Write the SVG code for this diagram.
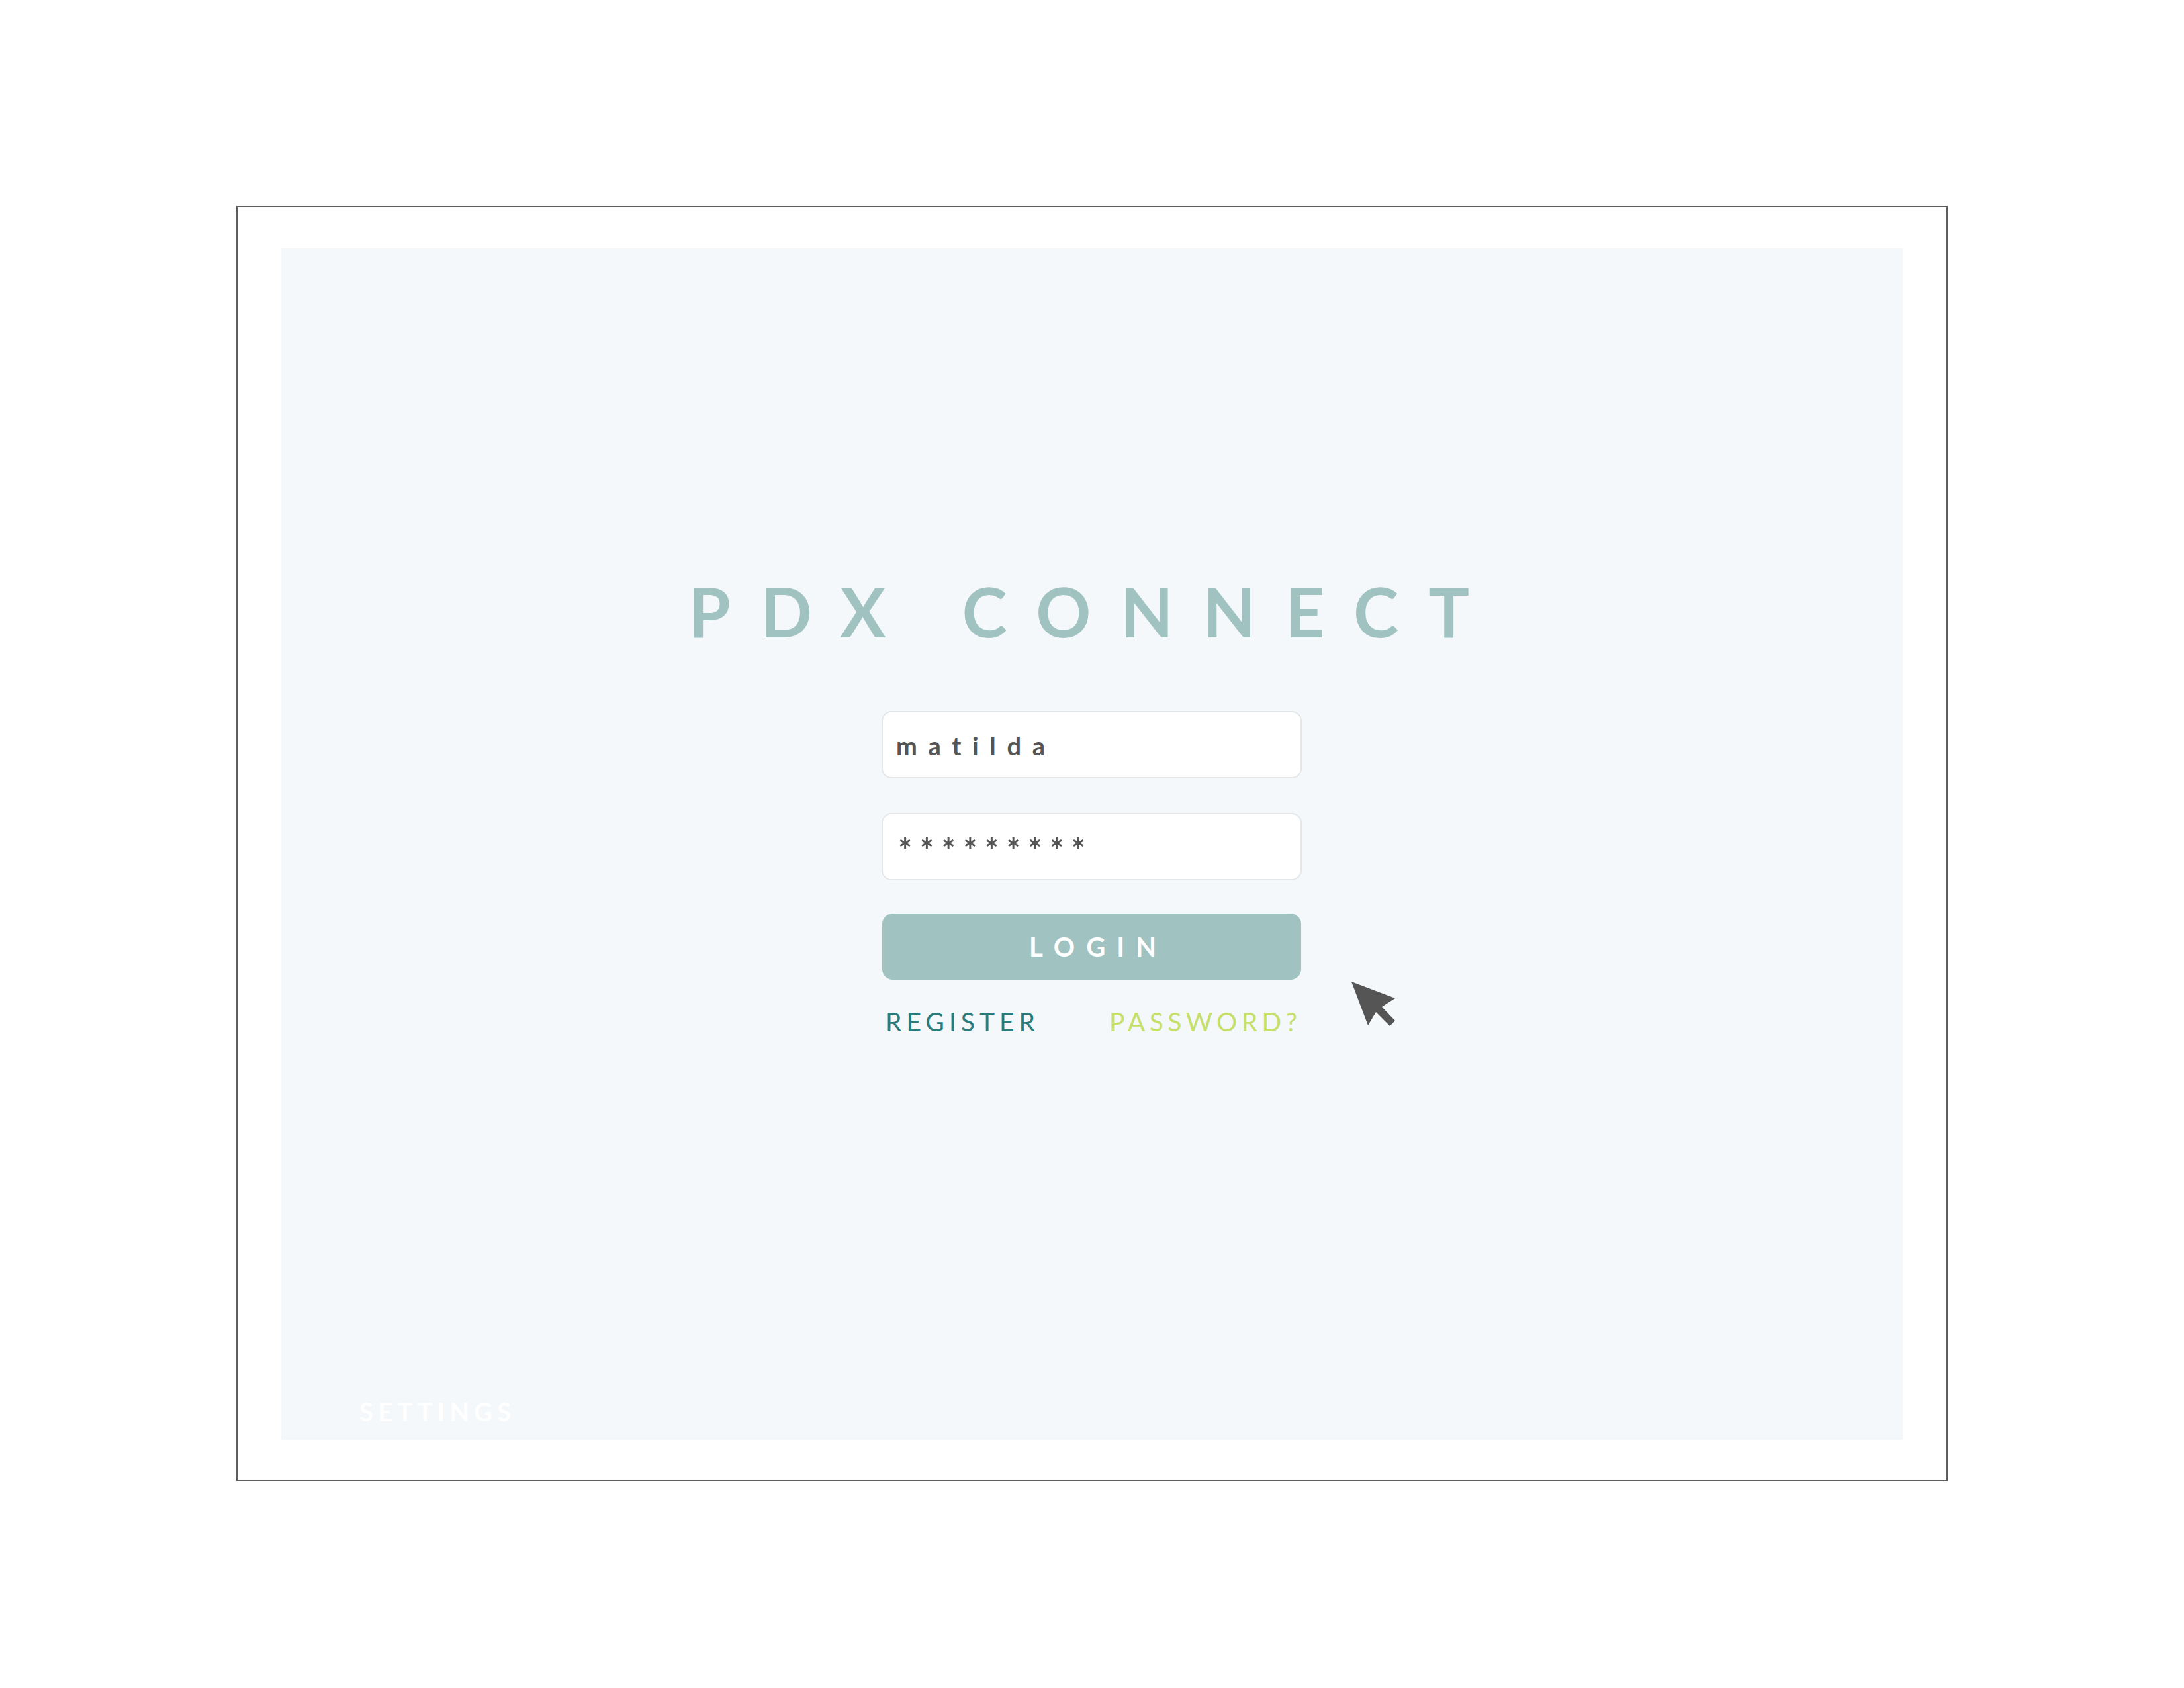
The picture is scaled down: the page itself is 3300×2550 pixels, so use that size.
<svg xmlns="http://www.w3.org/2000/svg" width="3300" height="2550" viewBox="0 0 3300 2550">
<style>
.t{font-family:Lato,"Liberation Sans",sans-serif;font-variant-ligatures:none}
.field{fill:#ffffff;stroke:#e4e6e8;stroke-width:2}
.val{font-size:38px;font-weight:700;fill:#555555}
</style>
<rect x="0" y="0" width="3300" height="2550" fill="#ffffff"/>
<g id="frame">
<rect x="358" y="312" width="2584" height="1925" fill="#ffffff" stroke="#5e5e5e" stroke-width="2"/>
</g>
<g id="panel">
<rect x="425" y="375" width="2450" height="1800" fill="#f4f8fb"/>
</g>
<g id="title">
<text class="t" x="1040" y="963" font-size="103" font-weight="700" fill="#a0c2c1" textLength="1180" lengthAdjust="spacing">PDX CONNECT</text>
</g>
<g id="username">
<rect class="field" x="1333" y="1075" width="633" height="100" rx="14"/>
<text class="t val" x="1354" y="1141" textLength="225" lengthAdjust="spacing">matilda</text>
</g>
<g id="password">
<rect class="field" x="1333" y="1229" width="633" height="100" rx="14"/>
<text class="t val" x="1357" y="1303" font-size="50" textLength="283" lengthAdjust="spacing" style="font-size:50px">*********</text>
</g>
<g id="login">
<rect x="1333" y="1380" width="633" height="100" rx="16" fill="#a0c2c1"/>
<text class="t" x="1555" y="1445" font-size="40" font-weight="700" fill="#ffffff" textLength="192" lengthAdjust="spacing">LOGIN</text>
</g>
<g id="register">
<text class="t" x="1338" y="1558" font-size="39" fill="#2b7b7a" textLength="226" lengthAdjust="spacing">REGISTER</text>
</g>
<g id="forgot">
<text class="t" x="1676" y="1558" font-size="39" fill="#c6df6b" textLength="284" lengthAdjust="spacing">PASSWORD?</text>
</g>
<g id="cursor">
<polygon points="2042,1483 2108,1508 2088,1521 2108,1542 2100,1550 2079,1529 2067,1549" fill="#555555"/>
</g>
<g id="settings">
<text class="t" x="543" y="2147" font-size="38" font-weight="700" fill="#ffffff" textLength="229" lengthAdjust="spacing">SETTINGS</text>
</g>
<g id="connectors"/>
</svg>
